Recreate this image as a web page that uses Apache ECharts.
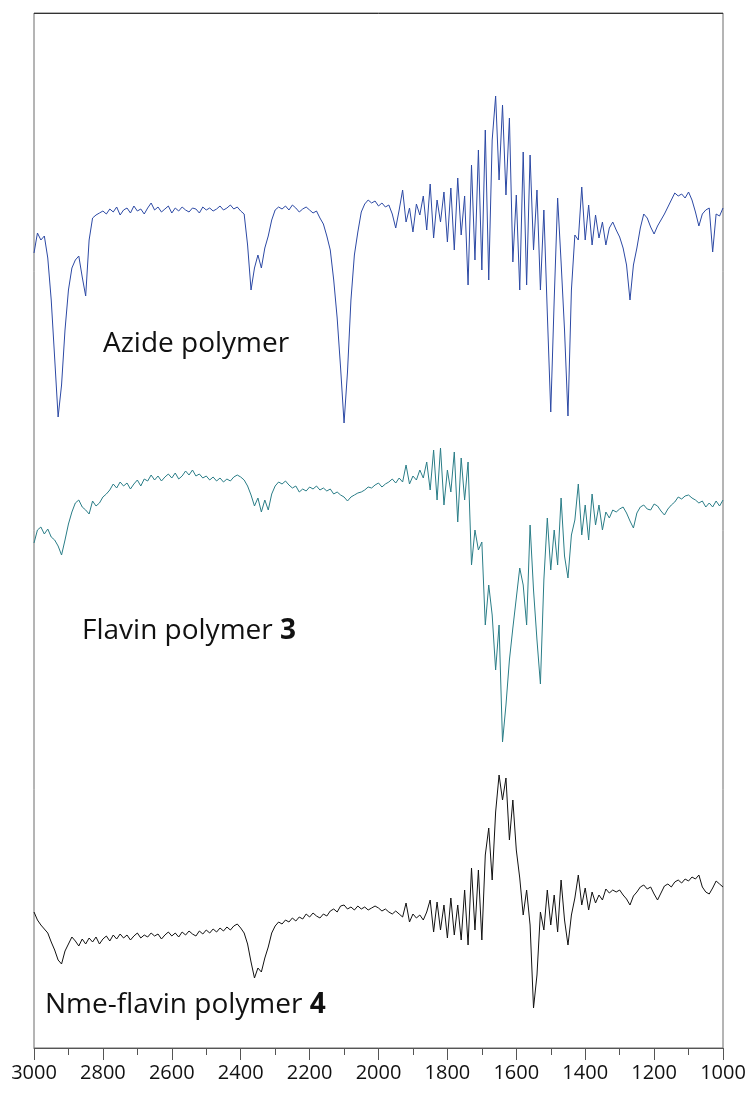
<html lang="en">
<head>
    <meta charset="UTF-8">
    <title>IR spectra</title>
    <style>
        html, body { margin: 0; padding: 0; background: #fff; }
        #echart { width: 752px; height: 1094px; }
    </style>
</head>
<body>
    <div id="echart"></div>
    <script src="https://cdn.jsdelivr.net/npm/echarts@6/dist/echarts.min.js"></script>
    <script>
        // wavenumber grid: 3000 -> 1000 cm-1, one reading every 10 cm-1
        const waveStart = 3000
        const waveStep = 10
        const xTicks = [3000, 2800, 2600, 2400, 2200, 2000, 1800, 1600, 1400, 1200, 1000]

        // stacked transmittance traces, offset units (a.u.)
        const azide = [
            795, 815, 808, 812, 790, 748, 690, 631, 663, 718, 758, 780, 788, 792, 771, 752, 808, 830, 833, 835,
            837, 834, 839, 836, 841, 833, 838, 840, 835, 842, 837, 839, 834, 840, 845, 838, 841, 836, 839, 842,
            835, 840, 837, 841, 838, 836, 840, 839, 835, 841, 838, 840, 837, 839, 842, 838, 840, 843, 839, 841,
            837, 834, 803, 758, 780, 793, 780, 800, 812, 828, 838, 841, 839, 842, 838, 843, 840, 836, 839, 841,
            838, 835, 837, 830, 824, 812, 798, 768, 730, 680, 625, 676, 748, 793, 816, 836, 844, 848, 845, 847,
            842, 845, 841, 843, 834, 820, 838, 858, 826, 840, 816, 844, 833, 852, 818, 864, 810, 848, 826, 856,
            806, 860, 798, 870, 813, 852, 763, 883, 788, 898, 778, 918, 768, 908, 952, 868, 943, 853, 930, 786,
            853, 758, 896, 763, 893, 798, 858, 758, 838, 735, 636, 748, 850, 786, 718, 632, 758, 813, 808, 861,
            808, 843, 803, 833, 810, 826, 803, 820, 826, 818, 811, 800, 783, 748, 783, 800, 820, 834, 830, 821,
            814, 822, 828, 834, 841, 848, 855, 852, 854, 850, 856, 848, 836, 822, 834, 838, 840, 796, 834, 832,
            840
        ]
        const flavin = [
            505, 518, 521, 514, 519, 511, 508, 502, 493, 508, 524, 536, 545, 548, 541, 538, 534, 547, 542, 545,
            551, 554, 558, 564, 560, 566, 562, 565, 559, 564, 568, 562, 569, 567, 573, 568, 572, 567, 571, 574,
            570, 575, 569, 572, 577, 573, 578, 572, 574, 570, 572, 568, 571, 567, 570, 566, 569, 567, 571, 573,
            571, 568, 562, 553, 542, 550, 536, 548, 538, 554, 562, 566, 564, 567, 563, 560, 562, 556, 559, 557,
            561, 559, 562, 558, 560, 557, 559, 554, 556, 553, 551, 547, 551, 553, 555, 556, 558, 561, 560, 563,
            565, 561, 564, 566, 569, 565, 570, 566, 583, 564, 572, 568, 578, 570, 586, 558, 598, 548, 600, 543,
            578, 556, 596, 526, 590, 548, 586, 483, 518, 498, 506, 423, 463, 433, 378, 423, 306, 343, 388, 420,
            450, 480, 463, 423, 523, 458, 408, 364, 468, 530, 478, 518, 483, 550, 492, 470, 513, 528, 564, 513,
            543, 508, 554, 523, 543, 518, 536, 530, 538, 536, 539, 541, 535, 527, 520, 535, 541, 543, 539, 538,
            544, 542, 537, 533, 539, 543, 546, 551, 549, 552, 553, 550, 548, 545, 547, 541, 545, 541, 547, 542,
            548
        ]
        const nmeFlavin = [
            136, 128, 123, 119, 115, 106, 98, 88, 84, 97, 104, 111, 107, 102, 109, 104, 110, 106, 111, 104,
            109, 112, 107, 113, 109, 114, 110, 113, 108, 112, 115, 110, 113, 111, 115, 112, 114, 109, 113, 116,
            112, 115, 111, 116, 113, 117, 114, 112, 117, 114, 118, 115, 119, 116, 120, 117, 121, 118, 122, 124,
            120, 115, 104, 86, 70, 80, 76, 90, 101, 115, 122, 126, 124, 128, 126, 130, 127, 131, 129, 134,
            131, 135, 132, 130, 134, 132, 137, 139, 136, 142, 143, 139, 141, 138, 142, 139, 141, 138, 140, 142,
            140, 137, 139, 136, 134, 137, 134, 131, 145, 126, 134, 130, 133, 128, 136, 148, 116, 146, 118, 143,
            110, 150, 113, 143, 108, 158, 103, 180, 118, 178, 108, 193, 220, 168, 236, 273, 248, 270, 208, 248,
            198, 170, 133, 158, 123, 40, 73, 136, 118, 158, 123, 153, 116, 168, 128, 103, 133, 150, 173, 143,
            160, 138, 156, 145, 153, 148, 159, 155, 158, 156, 158, 153, 149, 143, 152, 156, 161, 163, 159, 161,
            154, 148, 155, 162, 164, 161, 166, 168, 165, 169, 167, 171, 169, 173, 161, 156, 154, 160, 167, 164,
            161
        ]

        const seriesNames = ['Azide polymer', 'Flavin polymer 3', 'Nme-flavin polymer 4']
        const seriesColors = ['#2c49a4', '#2a7d87', '#111111']
        const seriesValues = [azide, flavin, nmeFlavin]

        const echartDom = document.getElementById('echart')
        let echart = echarts.init(echartDom)

        const labelFont = '"Open Sans", "Noto Sans", sans-serif'

        echart.setOption({
            animation: false,
            grid: {
                left: 34, right: 29, top: 13, bottom: 46,
                show: true, borderColor: '#6a6a6a', borderWidth: 1
            },
            xAxis: {
                type: 'value',
                min: 1000, max: 3000, interval: 200,
                inverse: true,
                axisLine: { show: true, lineStyle: { color: '#555', width: 1 } },
                axisTick: { show: true, length: 12, lineStyle: { color: '#555' } },
                minorTick: { show: true, splitNumber: 2, length: 7, lineStyle: { color: '#555' } },
                splitLine: { show: false },
                axisLabel: {
                    margin: 15, fontSize: 20, color: '#111', fontFamily: labelFont,
                    customValues: xTicks,
                    formatter: v => String(v)
                }
            },
            yAxis: {
                type: 'value', min: 0, max: 1035,
                axisLine: { show: false }, axisTick: { show: false },
                axisLabel: { show: false }, splitLine: { show: false }
            },
            series: seriesValues.map((vals, k) => ({
                name: seriesNames[k],
                type: 'line',
                showSymbol: false,
                silent: true,
                lineStyle: { color: seriesColors[k], width: 1 },
                data: vals.map((v, i) => [waveStart - waveStep * i, v])
            })),
            graphic: [
                {
                    // darker top edge of the frame
                    type: 'line', shape: { x1: 34, y1: 13.5, x2: 723, y2: 13.5 },
                    style: { stroke: '#333', lineWidth: 1 }
                },
                {
                    type: 'text', x: 103, y: 344,
                    style: { text: 'Azide polymer', font: '28px ' + labelFont, fill: '#111', verticalAlign: 'middle' }
                },
                {
                    type: 'text', x: 82, y: 631,
                    style: {
                        text: 'Flavin polymer {b|3}', font: '28px ' + labelFont, fill: '#111', verticalAlign: 'middle',
                        rich: { b: { fontWeight: 'bold', fontSize: 28, fontFamily: labelFont } }
                    }
                },
                {
                    type: 'text', x: 45, y: 1005,
                    style: {
                        text: 'Nme-flavin polymer {b|4}', font: '28px ' + labelFont, fill: '#111', verticalAlign: 'middle',
                        rich: { b: { fontWeight: 'bold', fontSize: 28, fontFamily: labelFont } }
                    }
                }
            ]
        })
    </script>
</body>
</html>
